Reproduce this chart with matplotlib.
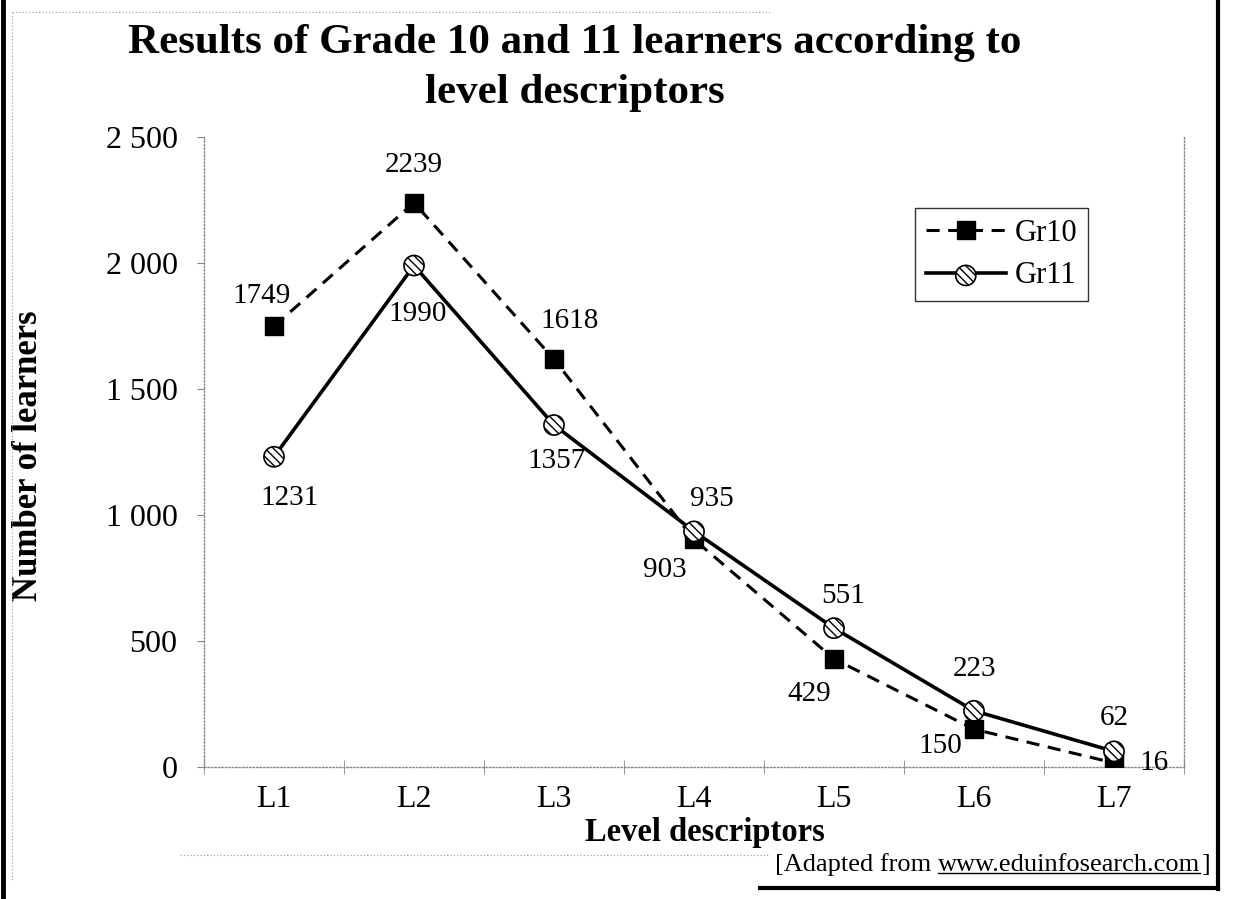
import matplotlib.pyplot as plt
from matplotlib.lines import Line2D
from matplotlib.legend_handler import HandlerTuple

levels = ['L1', 'L2', 'L3', 'L4', 'L5', 'L6', 'L7']
gr10 = [1749, 2239, 1618, 903, 429, 150, 16]
gr11 = [1231, 1990, 1357, 935, 551, 223, 62]
y_ticks = [0, 500, 1000, 1500, 2000, 2500]
y_tick_labels = ['0', '500', '1 000', '1 500', '2 000', '2 500']

# where each value label sits relative to its point (pixels, y up)
gr10_offsets = [(-12, 30), (0, 38), (16, 38), (-29, -31), (-25, -35), (-34, -17), (40, 0)]
gr11_offsets = [(16, -41), (4, -48), (3, -36), (18, 32), (9, 32), (0, 42), (0, 33)]

W, H = 1233, 899
plt.rcParams['font.family'] = ['Liberation Serif', 'DejaVu Serif']
plt.rcParams['hatch.linewidth'] = 1.0

fig = plt.figure(figsize=(W / 100, H / 100), dpi=100)
ax = fig.add_axes([204 / W, 1 - 767 / H, 980 / W, 630 / H])

x = list(range(len(levels)))
line10, = ax.plot(x, gr10, color='black', lw=2.2, ls=(0, (4.3, 2.8)),
                  marker='s', ms=13, mfc='black', mec='black', zorder=3)
line11, = ax.plot(x, gr11, color='black', lw=2.6, zorder=4)
dots11 = ax.scatter(x, gr11, s=210, facecolor='white', edgecolor='black',
                    hatch='\\\\\\\\', linewidths=1.2, zorder=5)

# value labels
for xi, v, (dx, dy) in zip(x, gr10, gr10_offsets):
    ax.annotate(str(v), (xi, v), xytext=(dx, dy), textcoords='offset pixels',
                ha='center', va='center', fontsize=21)
for xi, v, (dx, dy) in zip(x, gr11, gr11_offsets):
    ax.annotate(str(v), (xi, v), xytext=(dx, dy), textcoords='offset pixels',
                ha='center', va='center', fontsize=21)

ax.set_xlim(-0.5, 6.5)
ax.set_ylim(0, 2500)
ax.set_xticks(x)
ax.set_xticklabels(levels, fontsize=23)
ax.set_xticks([i - 0.5 for i in range(len(levels) + 1)], minor=True)
ax.tick_params(axis='x', which='major', length=0, pad=13)
ax.tick_params(axis='x', which='minor', length=10, direction='inout', color='#888888')
ax.set_yticks(y_ticks)
ax.set_yticklabels(y_tick_labels, fontsize=23)
ax.tick_params(axis='y', length=5, color='#888888', pad=14)

for side in ['left', 'bottom', 'right']:
    ax.spines[side].set_color('#888888')
    ax.spines[side].set_linestyle((0, (1, 1.5)))
    ax.spines[side].set_linewidth(1.0)
ax.spines['top'].set_visible(False)

ax.set_ylabel('Number of learners', fontsize=25, fontweight='bold')
ax.yaxis.set_label_coords((45 - 204) / 980, (767 - 456) / 630)

leg = ax.legend([line10, (line11, dots11)], ['Gr10', 'Gr11'],
                handler_map={tuple: HandlerTuple(ndivide=1)},
                loc='upper right', bbox_to_anchor=((1088 - 204) / 980, (767 - 208) / 630),
                borderaxespad=0, fontsize=22, frameon=True, fancybox=False,
                edgecolor='black', handlelength=2.6, handletextpad=0.3,
                labelspacing=0.45, borderpad=0.35, scatterpoints=1)
leg.get_frame().set_linewidth(1.0)

# title and other texts
fig.text(575 / W, 1 - 68 / H, 'Results of Grade 10 and 11 learners according to\nlevel descriptors',
         ha='center', va='center', fontsize=31, fontweight='bold', linespacing=1.4)
fig.text(705 / W, 1 - 832 / H, 'Level descriptors', ha='center', va='center',
         fontsize=23.5, fontweight='bold')

t1 = fig.text(775 / W, 1 - 865 / H, '[Adapted from ', ha='left', va='center', fontsize=19)
t2 = fig.text(0, 0, 'www.eduinfosearch.com', fontsize=19, va='center')
t3 = fig.text(0, 0, ']', fontsize=19, va='center')
fig.canvas.draw()
r = fig.canvas.get_renderer()
bb1 = t1.get_window_extent(r)
t2.set_position((bb1.x1 / W, 1 - 865 / H))
bb2 = t2.get_window_extent(r)
t3.set_position(((bb2.x1 + 1) / W, 1 - 865 / H))
fig.add_artist(Line2D([bb2.x0 / W, bb2.x1 / W], [(bb2.y0 + 3) / H] * 2,
                      transform=fig.transFigure, color='black', lw=1.0))


# scanned page frame
def frame_line(xs, ys, **kw):
    fig.add_artist(Line2D([p / W for p in xs], [1 - p / H for p in ys],
                          transform=fig.transFigure, **kw))


frame_line([3, 3], [0, 899], color='black', lw=3.5)
frame_line([1218, 1218], [0, 889], color='black', lw=3.0)
frame_line([760, 1218], [888, 888], color='black', lw=3.0)
dotted = dict(color='#999999', lw=0.8, ls=(0, (1, 2)))
frame_line([12, 770], [12, 12], **dotted)
frame_line([12, 12], [12, 880], **dotted)
frame_line([180, 770], [855, 855], **dotted)

fig.savefig('out.png', dpi=100)
